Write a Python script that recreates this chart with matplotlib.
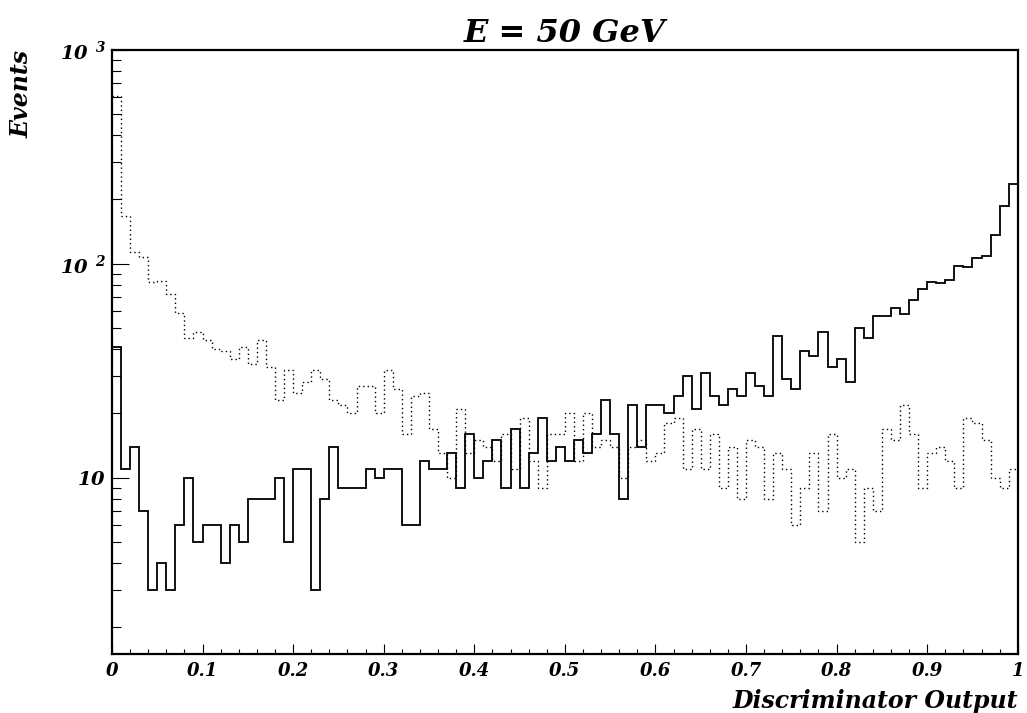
import numpy as np
import matplotlib
matplotlib.use("Agg")
import matplotlib.pyplot as plt
from matplotlib.ticker import LogLocator, NullFormatter, FixedLocator

# ---- data (events per bin, 100 bins over [0, 1]) ----
signal = [41, 11, 14, 7, 3, 4, 3, 6, 10, 5,
          6, 6, 4, 6, 5, 8, 8, 8, 10, 5,
          11, 11, 3, 8, 14, 9, 9, 9, 11, 10,
          11, 11, 6, 6, 12, 11, 11, 13, 9, 16,
          10, 12, 15, 9, 17, 9, 13, 19, 12, 14,
          12, 15, 13, 16, 23, 16, 8, 22, 14, 22,
          22, 20, 24, 30, 21, 31, 24, 22, 26, 24,
          31, 27, 24, 46, 29, 26, 39, 37, 48, 33,
          36, 28, 50, 45, 57, 57, 62, 58, 68, 76,
          82, 81, 84, 98, 97, 106, 109, 136, 186, 236]

background = [610, 168, 114, 108, 82, 83, 72, 59, 45, 48,
              44, 40, 39, 36, 41, 34, 44, 33, 23, 32,
              25, 28, 32, 29, 23, 22, 20, 27, 27, 20,
              32, 26, 16, 24, 25, 17, 13, 10, 21, 13,
              15, 14, 12, 16, 11, 19, 12, 9, 16, 16,
              20, 12, 20, 14, 15, 14, 10, 14, 15, 12,
              13, 18, 19, 11, 17, 11, 16, 9, 14, 8,
              15, 14, 8, 13, 11, 6, 9, 13, 7, 16,
              10, 11, 5, 9, 7, 17, 15, 22, 16, 9,
              13, 14, 12, 9, 19, 18, 15, 10, 9, 11]

x_range = (0.0, 1.0)
n_bins = 100
x_major = [0, 0.1, 0.2, 0.3, 0.4, 0.5, 0.6, 0.7, 0.8, 0.9, 1.0]
x_labels = ["0", "0.1", "0.2", "0.3", "0.4", "0.5", "0.6", "0.7", "0.8", "0.9", "1"]
y_major = [10, 100, 1000]
y_labels = [r"$\mathbf{10}^{\;\;\;\;\;\;}$",
            r"$\mathbf{10}^{\;\;\mathbf{2}}$",
            r"$\mathbf{10}^{\;\;\mathbf{3}}$"]
title = "E = 50 GeV"
xlabel = "Discriminator Output"
ylabel = "Events"

# ---- style ----
FONT = "DejaVu Serif"
plt.rcParams["mathtext.fontset"] = "custom"
plt.rcParams["mathtext.bf"] = FONT + ":bold:italic"
plt.rcParams["mathtext.rm"] = FONT + ":bold:italic"
plt.rcParams["mathtext.it"] = FONT + ":bold:italic"
fp = dict(family=FONT, weight="bold", style="italic")

fig = plt.figure(figsize=(10.27, 7.13), dpi=100)
ax = fig.add_axes([0.109, 0.0827, 0.882, 0.8472])

edges = np.linspace(x_range[0], x_range[1], n_bins + 1)
ax.stairs(signal, edges, color="black", linewidth=1.3, baseline=None)
ax.stairs(background, edges, color="black", linewidth=1.0,
          linestyle=(0, (1.0, 2.2)), baseline=None)

ax.set_yscale("log")
ax.set_xlim(*x_range)
ax.set_ylim(1.5, 1000)

# x ticks
ax.xaxis.set_major_locator(FixedLocator(x_major))
ax.set_xticklabels(x_labels, fontsize=13, **fp)
ax.xaxis.set_minor_locator(FixedLocator(np.arange(0, 1.0001, 0.02)))
ax.tick_params(axis="x", which="major", direction="in", length=7.5, width=0.8, pad=6)
ax.tick_params(axis="x", which="minor", direction="in", length=3.8, width=0.8)

# y ticks
ax.yaxis.set_major_locator(FixedLocator(y_major))
ax.set_yticklabels(y_labels, fontsize=14)
ax.yaxis.set_minor_locator(LogLocator(base=10, subs=np.arange(2, 10)))
ax.yaxis.set_minor_formatter(NullFormatter())
ax.tick_params(axis="y", which="major", direction="in", length=12.5, width=0.8, pad=4)
ax.tick_params(axis="y", which="minor", direction="in", length=6.5, width=0.8)

for s in ax.spines.values():
    s.set_linewidth(1.6)

ax.set_title(title, fontsize=23, pad=6, **fp)
ax.set_xlabel(xlabel, fontsize=17, loc="right", labelpad=6, **fp)
ax.set_ylabel(ylabel, fontsize=17, loc="top", **fp)
ax.yaxis.set_label_coords(-0.087, 1.0)

fig.savefig("out.png", dpi=100)
